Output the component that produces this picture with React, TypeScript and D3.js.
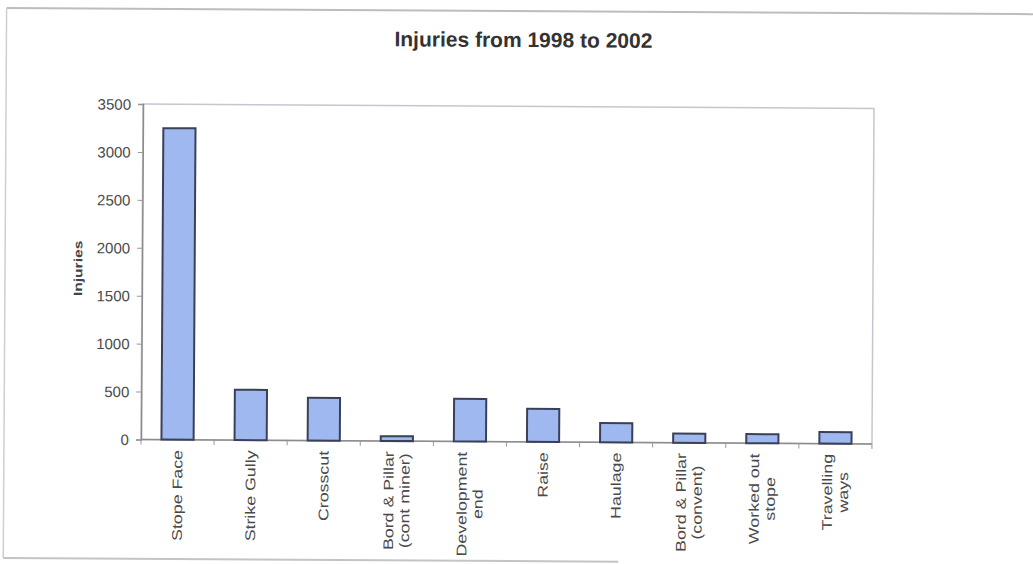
import React, { useEffect, useRef } from "react";
import * as d3 from "d3";

const categoryLines: string[][] = [
  ["Stope Face"],
  ["Strike Gully"],
  ["Crosscut"],
  ["Bord & Pillar", "(cont miner)"],
  ["Development", "end"],
  ["Raise"],
  ["Haulage"],
  ["Bord & Pillar", "(convent)"],
  ["Worked out", "stope"],
  ["Travelling", "ways"],
];
const injuries: number[] = [3250, 525, 445, 50, 445, 345, 200, 95, 95, 120];
const yTicks: number[] = [0, 500, 1000, 1500, 2000, 2500, 3000, 3500];
const chartTitle = "Injuries from 1998 to 2002";
const yAxisTitle = "Injuries";

const W = 1033;
const H = 564;
const FONT = "'Liberation Sans', Arial, sans-serif";

export default function App() {
  const ref = useRef<SVGSVGElement | null>(null);

  useEffect(() => {
    const svg = d3.select(ref.current);
    svg.selectAll("*").remove();

    const root = svg.append("g").attr("transform", "rotate(0.35, 508, 274)");

    // outer frame (scanned page border)
    root.append("line").attr("x1", 5).attr("y1", 11).attr("x2", 1040).attr("y2", 11)
      .attr("stroke", "#bdbdbd").attr("stroke-width", 2);
    root.append("line").attr("x1", 5).attr("y1", 11).attr("x2", 5).attr("y2", 561)
      .attr("stroke", "#cfcfcf").attr("stroke-width", 1.5);
    root.append("line").attr("x1", 5).attr("y1", 561).attr("x2", 620).attr("y2", 561)
      .attr("stroke", "#c4c4c4").attr("stroke-width", 2);

    const x0 = 142, x1 = 873, y0 = 106.3, y1 = 441.7;
    const labels = categoryLines.map((l) => l.join(" "));

    const x = d3.scaleBand<string>().domain(labels).range([x0, x1])
      .paddingInner(0.56).paddingOuter(0.28);
    const y = d3.scaleLinear().domain([0, 3500]).range([y1, y0]);

    // title
    root.append("text").attr("x", 522).attr("y", 47).attr("text-anchor", "middle")
      .attr("font-family", FONT).attr("font-weight", "bold").attr("font-size", 21)
      .attr("fill", "#333").text(chartTitle);

    // plot border
    root.append("rect").attr("x", x0).attr("y", y0).attr("width", x1 - x0).attr("height", y1 - y0)
      .attr("fill", "none").attr("stroke", "#c6c6d0").attr("stroke-width", 1.5);

    // y axis
    const yAxis = root.append("g").attr("transform", `translate(${x0},0)`)
      .call(d3.axisLeft(y).tickValues(yTicks).tickSize(5).tickPadding(7).tickFormat(d3.format("d")));
    yAxis.select(".domain").attr("stroke", "#8c8c8c").attr("stroke-width", 1.5);
    yAxis.selectAll(".tick line").attr("stroke", "#999");
    yAxis.selectAll(".tick text").attr("font-family", FONT).attr("font-size", 15)
      .attr("fill", "#4a4a4a").attr("dy", "0.35em");

    // x axis
    const xAxis = root.append("g").attr("transform", `translate(0,${y1})`);
    xAxis.append("line").attr("x1", x0).attr("x2", x1).attr("y1", 0).attr("y2", 0)
      .attr("stroke", "#8c8c8c").attr("stroke-width", 1.5);
    const step = x.step();
    const bounds = d3.range(labels.length + 1).map((i) => x0 + i * step);
    xAxis.selectAll("line.tick").data(bounds).enter().append("line")
      .attr("class", "tick").attr("x1", (d) => d).attr("x2", (d) => d)
      .attr("y1", 0).attr("y2", 5).attr("stroke", "#999");

    // bars
    root.append("g").selectAll("rect").data(injuries).enter().append("rect")
      .attr("x", (_d, i) => x(labels[i]) as number)
      .attr("y", (d) => y(d))
      .attr("width", x.bandwidth())
      .attr("height", (d) => y(0) - y(d))
      .attr("fill", "#a0b8f0")
      .attr("stroke", "#3a4058")
      .attr("stroke-width", 2);

    // x labels (rotated)
    const sx = 1.27;
    const lineGap = 16;
    const topY = 452;
    categoryLines.forEach((lines, i) => {
      const cx = (x(labels[i]) as number) + x.bandwidth() / 2;
      const tmp = lines.map((ln) => {
        const t = root.append("text").attr("font-family", FONT).attr("font-size", 14).text(ln);
        const len = (t.node() as SVGTextElement).getComputedTextLength();
        t.remove();
        return len;
      });
      const maxLen = d3.max(tmp) || 0;
      const cy = topY + (maxLen * sx) / 2;
      lines.forEach((ln, j) => {
        const px = cx + (j - (lines.length - 1) / 2) * lineGap;
        root.append("g").attr("transform", `translate(${px},${cy}) rotate(-90) scale(${sx},1)`)
          .append("text").attr("text-anchor", "middle").attr("dy", "0.35em")
          .attr("font-family", FONT).attr("font-size", 14).attr("fill", "#4a4a4a").text(ln);
      });
    });

    // y title
    root.append("g").attr("transform", "translate(78,271) rotate(-90) scale(1.3,1)")
      .append("text").attr("text-anchor", "middle").attr("dy", "0.35em")
      .attr("font-family", FONT).attr("font-weight", "bold").attr("font-size", 12)
      .attr("fill", "#444").text(yAxisTitle);
  }, []);

  return (
    <svg
      ref={ref}
      width={W}
      height={H}
      style={{ position: "absolute", left: 0, top: 0, background: "#fff" }}
    />
  );
}
